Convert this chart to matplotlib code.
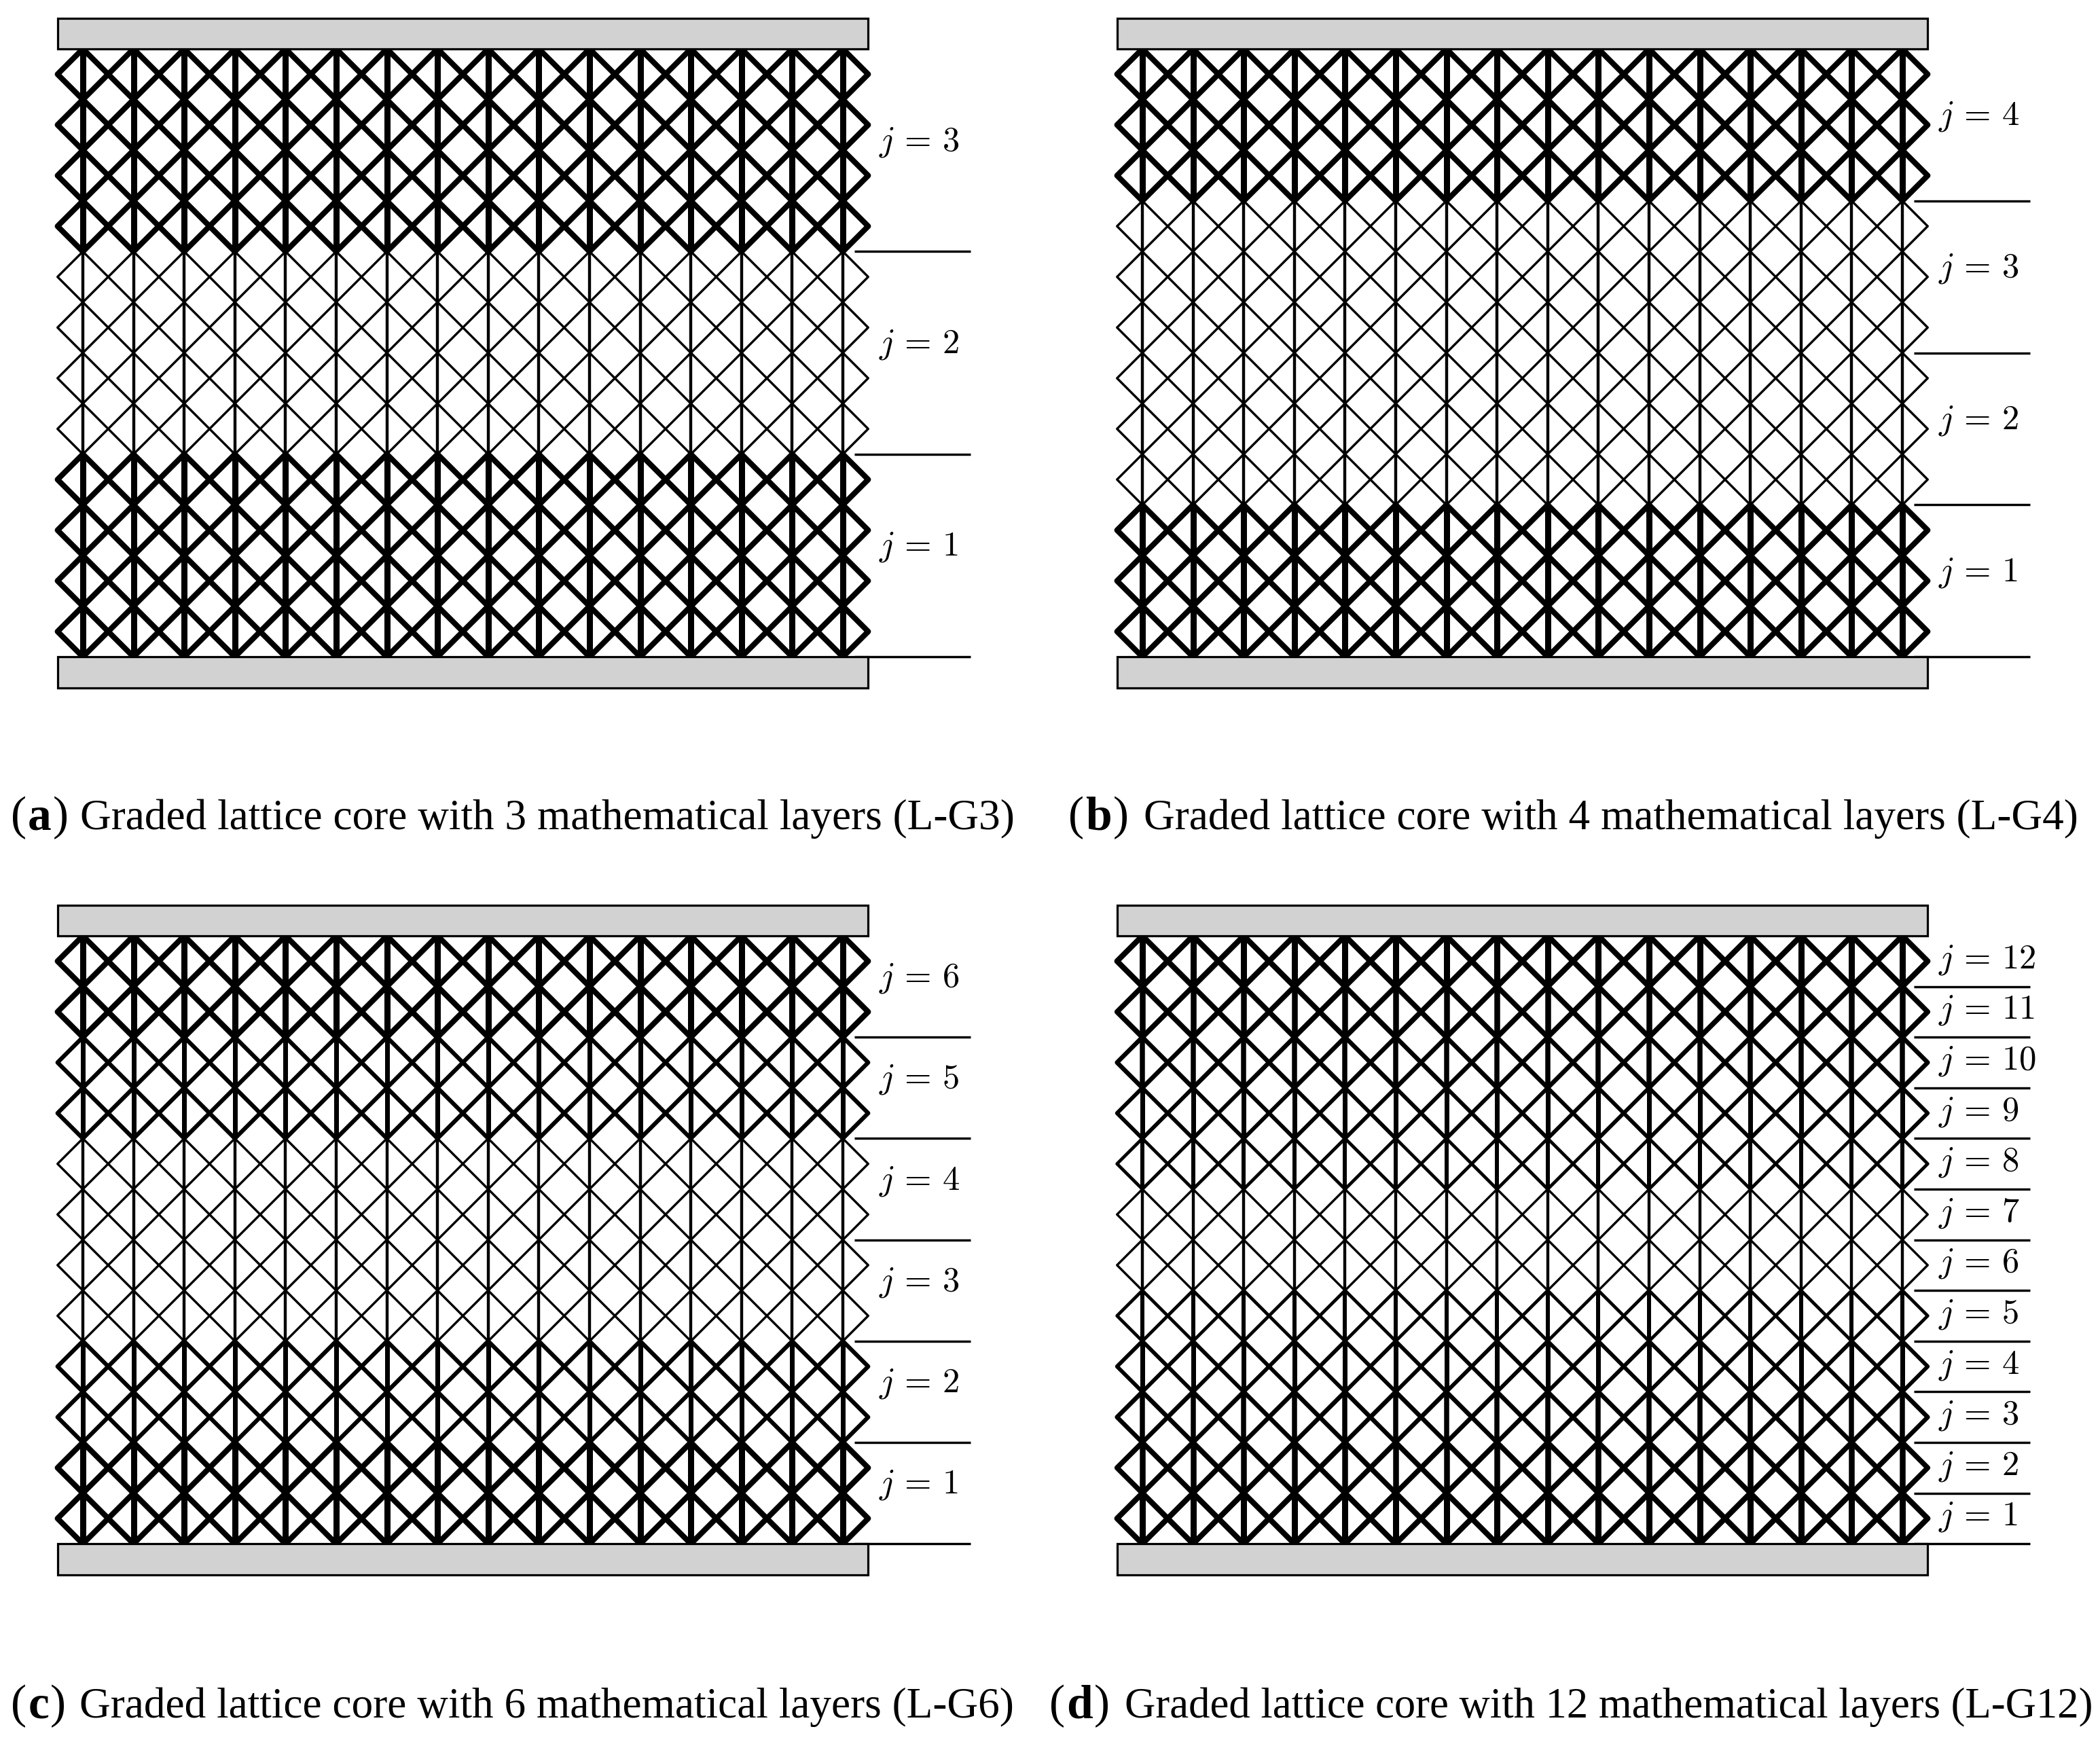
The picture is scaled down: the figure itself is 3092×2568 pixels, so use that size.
import matplotlib
matplotlib.use('Agg')
import matplotlib.pyplot as plt
from matplotlib.collections import LineCollection
from matplotlib.patches import Rectangle

plt.rcParams['mathtext.fontset'] = 'cm'
plt.rcParams['font.family'] = ['Liberation Serif', 'DejaVu Serif']

W, H, DPI = 3092, 2568, 100
PX = 72 / DPI

# strut widths in px per layer, j = 1 first
diag_a = [8.2, 3.4, 8.2]
vert_a = [9.0, 4.4, 9.0]
diag_b = [8.2, 3.4, 3.4, 8.2]
vert_b = [9.0, 4.4, 4.4, 9.0]
diag_c = [8.2, 6.2, 3.4, 3.4, 6.2, 8.2]
vert_c = [9.0, 7.0, 4.4, 4.4, 7.0, 9.0]
diag_d = [8.2, 7.6, 6.6, 5.8, 4.8, 3.4, 3.4, 4.8, 5.8, 6.6, 7.6, 8.2]
vert_d = [9.0, 8.5, 7.5, 7.0, 6.0, 4.4, 4.4, 6.0, 7.0, 7.5, 8.5, 9.0]

letters = ['a', 'b', 'c', 'd']
captions = ['Graded lattice core with 3 mathematical layers (L-G3)',
            'Graded lattice core with 4 mathematical layers (L-G4)',
            'Graded lattice core with 6 mathematical layers (L-G6)',
            'Graded lattice core with 12 mathematical layers (L-G12)']

# panel origin (offset from panel a), caption x start, text x start
off_x = [0, 1560, 0, 1560]
off_y = [0, 0, 1306, 1306]
paren_x = [16, 1573, 16, 1545]
text_x = [118, 1684, 117, 1656]
cap_y = [1221, 1221, 2529, 2529]
cap_size = [45.5, 45.5, 45.5, 45.1]
label_dy = [0, 0, 0, 10]

n_rows = 12
n_cols = 16
pitch = 74.6
x0, y_top = 122.0, 72.0


def draw_panel(ax, diag, vert, ox, oy, dy):
    xs = [ox + x0 + i * pitch for i in range(n_cols)]
    ys = [oy + y_top + k * pitch for k in range(n_rows + 1)]
    rows = n_rows // len(diag)
    n = len(diag)
    for j in range(n):
        # j counted from the bottom, rows from the top
        first = (n - 1 - j) * rows
        for k in range(first, first + rows):
            segs = []
            for a, b in zip(xs[:-1], xs[1:]):
                segs.append([(a, ys[k]), (b, ys[k + 1])])
                segs.append([(b, ys[k]), (a, ys[k + 1])])
            ym = (ys[k] + ys[k + 1]) / 2
            for xe, tip in ((xs[0], xs[0] - pitch / 2), (xs[-1], xs[-1] + pitch / 2)):
                segs.append([(xe, ys[k]), (tip, ym), (xe, ys[k + 1])])
            ax.add_collection(LineCollection(segs, colors='k', linewidths=diag[j] * PX,
                                             capstyle='round', joinstyle='round', zorder=2))
            vsegs = [[(x, ys[k]), (x, ys[k + 1])] for x in xs]
            ax.add_collection(LineCollection(vsegs, colors='k', linewidths=vert[j] * PX,
                                             capstyle='butt', zorder=2))
        # layer label and separator
        ybot = ys[first + rows]
        ax.text(ox + 1294, (ys[first] + ybot) / 2 + dy, f'$j\\,=\\,{j + 1}$', fontsize=36.5,
                ha='left', va='baseline', color='k', zorder=4)
        ax.plot([ox + 1258, ox + 1429], [ybot, ybot], color='k', lw=3.4 * PX,
                solid_capstyle='butt', zorder=3)
    # face sheets
    left = xs[0] - pitch / 2
    width = (xs[-1] + pitch / 2) - left
    for yp in (ys[0] - 45.5, ys[-1]):
        ax.add_patch(Rectangle((left, yp), width, 45.5, fc='#d2d2d2', ec='k',
                               lw=3.2 * PX, zorder=5))


fig = plt.figure(figsize=(W / DPI, H / DPI), dpi=DPI)
ax = fig.add_axes([0, 0, 1, 1])
ax.set_xlim(0, W)
ax.set_ylim(H, 0)
ax.axis('off')

all_diag = [diag_a, diag_b, diag_c, diag_d]
all_vert = [vert_a, vert_b, vert_c, vert_d]
for i in range(4):
    draw_panel(ax, all_diag[i], all_vert[i], off_x[i], off_y[i], label_dy[i])

renderer = fig.canvas.get_renderer()
for i in range(4):
    x = paren_x[i]
    for s, weight in (('(', 'normal'), (letters[i], 'bold'), (')', 'normal')):
        t = ax.text(x, cap_y[i], s, fontsize=50, fontweight=weight, ha='left', va='baseline')
        x += t.get_window_extent(renderer).width + 2
    ax.text(text_x[i], cap_y[i], captions[i], fontsize=cap_size[i], ha='left', va='baseline')

fig.savefig('out.png', dpi=DPI, facecolor='white')
